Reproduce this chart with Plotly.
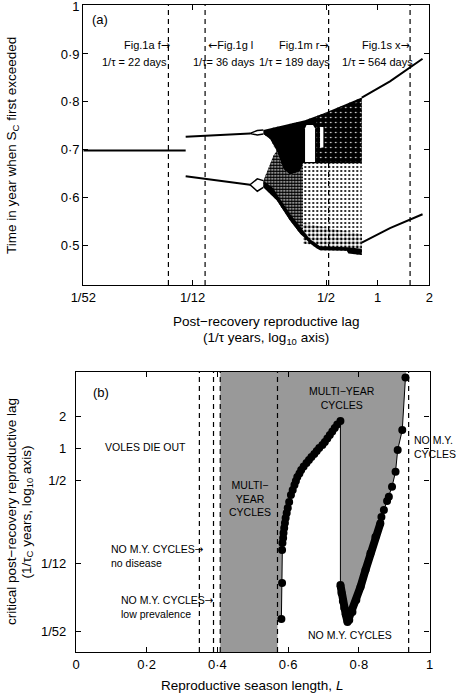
import math
import plotly.graph_objects as go

W, H = 456, 694

# ======================= Panel (a) data =======================
a_x_ticks = [1/52, 1/12, 1/2, 1, 2]
a_x_ticktext = ["1/52", "1/12", "1/2", "1", "2"]
a_y_ticks = [0.5, 0.6, 0.7, 0.8, 0.9, 1.0]
a_y_ticktext = ["0·5", "0·6", "0·7", "0·8", "0·9", "1"]
a_x_range = [1/52, 2]
a_y_range = [0.4185, 1.002]
fig_days = [22, 36, 189, 564]          # dashed lines, 1/tau in days

# period-1 branch
p1_x = [1/52, 0.076]
p1_y = [0.699, 0.699]
# period-2 branches
p2_up_x = [0.076, 0.1803]
p2_up_y = [0.7276, 0.7344]
p2_lo_x = [0.076, 0.1803]
p2_lo_y = [0.6452, 0.6274]
# small bubbles before chaos
eye_up_x = [0.2156, 0.1988, 0.1803, 0.1988, 0.2156]
eye_up_y = [0.7415, 0.7405, 0.7344, 0.7310, 0.7330]
eye_lo_x = [0.2156, 0.1988, 0.1803, 0.1988, 0.2156]
eye_lo_y = [0.6360, 0.6398, 0.6274, 0.6140, 0.6220]
# branches after chaos
post_x = [0.808, 1.18, 1.827]
post_up_y = [0.809, 0.843, 0.890]
post_lo_y = [0.507, 0.537, 0.566]

# chaotic cloud envelope
chaos_top_x = [0.2156, 0.3084, 0.3773, 0.4825, 0.6036, 0.808]
chaos_top_y = [0.7415, 0.754, 0.762, 0.776, 0.790, 0.809]
chaos_low_x = [0.808, 0.675, 0.6604, 0.4615, 0.4416, 0.4035, 0.3688, 0.3528, 0.3084, 0.258, 0.2156]
chaos_low_y = [0.481, 0.484, 0.490, 0.491, 0.4946, 0.505, 0.519, 0.526, 0.553, 0.595, 0.622]
notch_x = [0.2156, 0.2466, 0.258, 0.236, 0.2156]
notch_y = [0.636, 0.688, 0.695, 0.7228, 0.733]
# dense upper band lower boundary
band_low_x = [0.808, 0.367, 0.3528, 0.3084, 0.282, 0.258, 0.236, 0.2156]
band_low_y = [0.672, 0.672, 0.655, 0.648, 0.660, 0.6985, 0.7228, 0.733]
# medium density zone (left part of cloud)
mid_x = [0.258, 0.282, 0.3084, 0.3528, 0.367, 0.367, 0.3528, 0.3084, 0.258, 0.2156, 0.2156, 0.2466]
mid_y = [0.6985, 0.660, 0.648, 0.655, 0.672, 0.520, 0.526, 0.553, 0.595, 0.622, 0.636, 0.688]
# denser lower zone of the sparse part
low_x = [0.367, 0.55, 0.808, 0.808, 0.367]
low_y = [0.548, 0.535, 0.525, 0.485, 0.505]
# dense lower edge (wing)
wing_in_x = [0.2156, 0.2466, 0.258, 0.3084, 0.3528, 0.4035, 0.4615, 0.6604, 0.808]
wing_in_y = [0.636, 0.620, 0.608, 0.567, 0.540, 0.514, 0.499, 0.497, 0.494]
# white windows inside dense band
win1_x = [0.3773, 0.3773, 0.385, 0.42, 0.4315, 0.4315]
win1_y = [0.675, 0.745, 0.752, 0.752, 0.745, 0.675]
win2_x = [0.4615, 0.4615, 0.4825, 0.4825]
win2_y = [0.705, 0.748, 0.748, 0.705]
speck_x = [0.44, 0.808, 0.808, 0.44]
speck_y = [0.770, 0.803, 0.675, 0.675]

# ======================= Panel (b) data =======================
b_x_ticks = [0, 0.2, 0.4, 0.6, 0.8, 1.0]
b_x_ticktext = ["0", "0·2", "0·4", "0·6", "0·8", "1"]
b_y_ticks = [1/52, 1/12, 1/2, 1, 2]
b_y_ticktext = ["1/52", "1/12", "1/2", "1", "2"]
b_x_range = [0, 1]
b_y_range = [0.01239, 5.16]
b_dashed_L = [0.349, 0.389, 0.408, 0.570, 0.941]
multi_L_lo = 0.408
left_block_hi = 0.570
grey_top_L = 0.934

left_L = [0.581, 0.583, 0.583, 0.584, 0.586, 0.587, 0.589, 0.591, 0.593, 0.596,
          0.599, 0.603, 0.608, 0.613, 0.618, 0.622, 0.626, 0.632, 0.637, 0.644,
          0.652, 0.659, 0.666, 0.674, 0.681, 0.688, 0.697, 0.704, 0.711, 0.718,
          0.725, 0.732, 0.739, 0.748]
left_lag = [0.0252, 0.0548, 0.1115, 0.1297, 0.1444, 0.161, 0.179, 0.1995, 0.222, 0.2475,
            0.276, 0.314, 0.365, 0.406, 0.452, 0.493, 0.537, 0.580, 0.625, 0.674,
            0.727, 0.775, 0.827, 0.882, 0.941, 1.004, 1.071, 1.142, 1.232, 1.328,
            1.432, 1.544, 1.665, 1.795]
right_L = [0.864, 0.871, 0.880, 0.885, 0.894, 0.904, 0.910, 0.923, 0.932]
right_lag = [0.227, 0.264, 0.321, 0.352, 0.436, 0.603, 0.962, 1.479, 4.58]
v_L = [0.861, 0.847, 0.833, 0.819, 0.805, 0.793, 0.782, 0.773, 0.768, 0.763, 0.759, 0.755, 0.751, 0.748]
v_lag = [0.198, 0.1476, 0.1039, 0.0725, 0.0506, 0.038, 0.0294, 0.0247, 0.0237, 0.0280, 0.0319, 0.0371, 0.0441, 0.0524]

FONT = "Liberation Sans, Arial, Helvetica, sans-serif"
RA = "<span style='font-family:DejaVu Sans'>→</span>"
LA = "<span style='font-family:DejaVu Sans'>←</span>"
fig = go.Figure()

def poly(xs, ys, xa, ya, fill="black", pattern=None):
    kw = dict(x=xs, y=ys, xaxis=xa, yaxis=ya, mode="lines", fill="toself",
              line=dict(width=0, color="rgba(0,0,0,0)"), hoverinfo="skip")
    if pattern is None:
        kw["fillcolor"] = fill
    else:
        kw["fillcolor"] = pattern.get("bgcolor", "white")
        kw["fillpattern"] = pattern
    fig.add_trace(go.Scatter(**kw))

def line(xs, ys, xa, ya, width=2, dash=None, color="black"):
    fig.add_trace(go.Scatter(x=xs, y=ys, xaxis=xa, yaxis=ya, mode="lines",
                             line=dict(width=width, color=color, dash=dash), hoverinfo="skip"))

# ---- panel (a) ----
env_x = chaos_top_x + chaos_low_x + notch_x
env_y = chaos_top_y + chaos_low_y + notch_y
poly(env_x, env_y, "x", "y", pattern=dict(shape=".", size=4, solidity=0.22, fgcolor="black", bgcolor="white", fillmode="replace"))
poly(low_x, low_y, "x", "y", pattern=dict(shape=".", size=4, solidity=0.4, fgcolor="black", bgcolor="white", fillmode="replace"))
poly(mid_x, mid_y, "x", "y", pattern=dict(shape=".", size=3, solidity=0.78, fgcolor="black", bgcolor="white", fillmode="replace"))
poly(chaos_top_x + band_low_x, chaos_top_y + band_low_y, "x", "y", fill="black")
poly(speck_x, speck_y, "x", "y", pattern=dict(shape=".", size=5, solidity=0.08, fgcolor="white", bgcolor="rgba(0,0,0,0)", fillmode="replace"))
poly(win1_x, win1_y, "x", "y", fill="white")
poly(win2_x, win2_y, "x", "y", fill="white")
poly(chaos_low_x + wing_in_x, chaos_low_y + wing_in_y, "x", "y", fill="black")

line(p1_x, p1_y, "x", "y", 2)
line(p2_up_x, p2_up_y, "x", "y", 2)
line(p2_lo_x, p2_lo_y, "x", "y", 2)
line(eye_up_x, eye_up_y, "x", "y", 1.5)
line(eye_lo_x, eye_lo_y, "x", "y", 1.5)
line(post_x, post_up_y, "x", "y", 2)
line(post_x, post_lo_y, "x", "y", 2)
for d in fig_days:
    v = d / 365
    line([v, v], a_y_range, "x", "y", 1.2, dash="5px,4px")

# ---- panel (b) ----
gx = ([multi_L_lo, multi_L_lo, grey_top_L] + right_L[::-1] + v_L + left_L[::-1]
      + [left_block_hi, left_block_hi])
gy = ([b_y_range[0], b_y_range[1], b_y_range[1]] + right_lag[::-1] + v_lag + left_lag[::-1]
      + [left_lag[0], b_y_range[0]])
poly(gx, gy, "x2", "y2", fill="#999999")
for v in b_dashed_L:
    line([v, v], b_y_range, "x2", "y2", 1.2, dash="5px,4px")
line(left_L + v_L[::-1] + right_L, left_lag + v_lag[::-1] + right_lag, "x2", "y2", 1)
fig.add_trace(go.Scatter(x=v_L, y=v_lag, xaxis="x2", yaxis="y2", mode="lines+markers",
                         line=dict(width=8, color="black"), marker=dict(size=8, color="black"),
                         hoverinfo="skip"))
fig.add_trace(go.Scatter(x=left_L + right_L, y=left_lag + right_lag, xaxis="x2", yaxis="y2",
                         mode="markers", marker=dict(size=8, color="black"), hoverinfo="skip"))

# ---- axes ----
common = dict(showline=True, linecolor="black", linewidth=1.2, mirror="ticks", ticks="inside",
              ticklen=5, tickcolor="black", tickwidth=1, showgrid=False, zeroline=False,
              ticklabeloverflow="allow",
              tickfont=dict(size=13, color="black", family=FONT))

fig.update_layout(
    width=W, height=H, margin=dict(l=0, r=0, t=0, b=0, autoexpand=False),
    paper_bgcolor="white", plot_bgcolor="white", showlegend=False,
    font=dict(family=FONT, color="black"),
    xaxis=dict(type="log", range=[math.log10(a_x_range[0]), math.log10(a_x_range[1])],
               tickvals=a_x_ticks, ticktext=a_x_ticktext, domain=[83.3/W, 429.3/W], anchor="y", **common),
    yaxis=dict(range=a_y_range, tickvals=a_y_ticks, ticktext=a_y_ticktext,
               domain=[1-285/H, 1-5/H], anchor="x", **common),
    xaxis2=dict(range=b_x_range, tickvals=b_x_ticks, ticktext=b_x_ticktext,
                domain=[76/W, 429.5/W], anchor="y2", **common),
    yaxis2=dict(type="log", range=[math.log10(b_y_range[0]), math.log10(b_y_range[1])],
                tickvals=b_y_ticks, ticktext=b_y_ticktext, ticklabelstandoff=6,
                domain=[1-652/H, 1-372/H], anchor="x2", **common),
)

def ann(text, px, py, xanchor="center", size=11, angle=0, align="center"):
    fig.add_annotation(text=text, x=px/W, y=1-py/H, xref="paper", yref="paper",
                       xanchor=xanchor, yanchor="middle", showarrow=False, textangle=angle,
                       align=align, font=dict(size=size, family=FONT, color="black"))

# panel (a) text
ann("(a)", 90, 20, "left", 13)
ann("Fig.1a f" + RA, 172, 45.7, "right")
ann("1/τ = 22 days", 168.5, 61.7, "right")
ann(LA + "Fig.1g l", 205.5, 45.7, "left")
ann("1/τ= 36 days", 191, 61.7, "left")
ann("Fig.1m r" + RA, 330.5, 45.7, "right")
ann("1/τ = 189 days", 332, 61.7, "right")
ann("Fig.1s x" + RA, 411.5, 45.7, "right")
ann("1/τ = 564 days", 415, 61.7, "right")
ann("Time in year when S<sub>C</sub> first exceeded", 12, 146, "center", 13.5, -90)
ann("Post−recovery reproductive lag", 266, 321.7, "center", 13.5)
ann("(1/τ years, log<sub>10</sub> axis)", 266, 338.3, "center", 13.5)

# panel (b) text
ann("(b)", 90.5, 392.7, "left", 13)
ann("VOLES DIE OUT", 145, 447, "center", 10.5)
ann("MULTI−YEAR<br>CYCLES", 341.7, 397.5, "center", 10.5)
ann("MULTI−<br>YEAR<br>CYCLES", 250, 499, "center", 10.5)
ann("NO M.Y.<br>CYCLES", 412, 446.5, "left", 10.5, align="left")
ann("NO M.Y. CYCLES" + RA + "<br>no disease", 109.3, 556, "left", 10.5, align="left")
ann("NO M.Y. CYCLES" + RA + "<br>low prevalence", 119.3, 607, "left", 10.5, align="left")
ann("NO M.Y. CYCLES", 350, 635, "center", 10.5)
ann("critical post−recovery reproductive lag", 12, 512, "center", 13.5, -90)
ann("(1/τ<sub>C</sub> years, log<sub>10</sub> axis)", 27.5, 512, "center", 13.5, -90)
ann("Reproductive season length, <i>L</i>", 251.7, 685, "center", 13.5)

fig.write_html("out.html", config={"displayModeBar": False},
               post_script="document.body.style.margin='0';document.body.style.overflow='hidden';")
